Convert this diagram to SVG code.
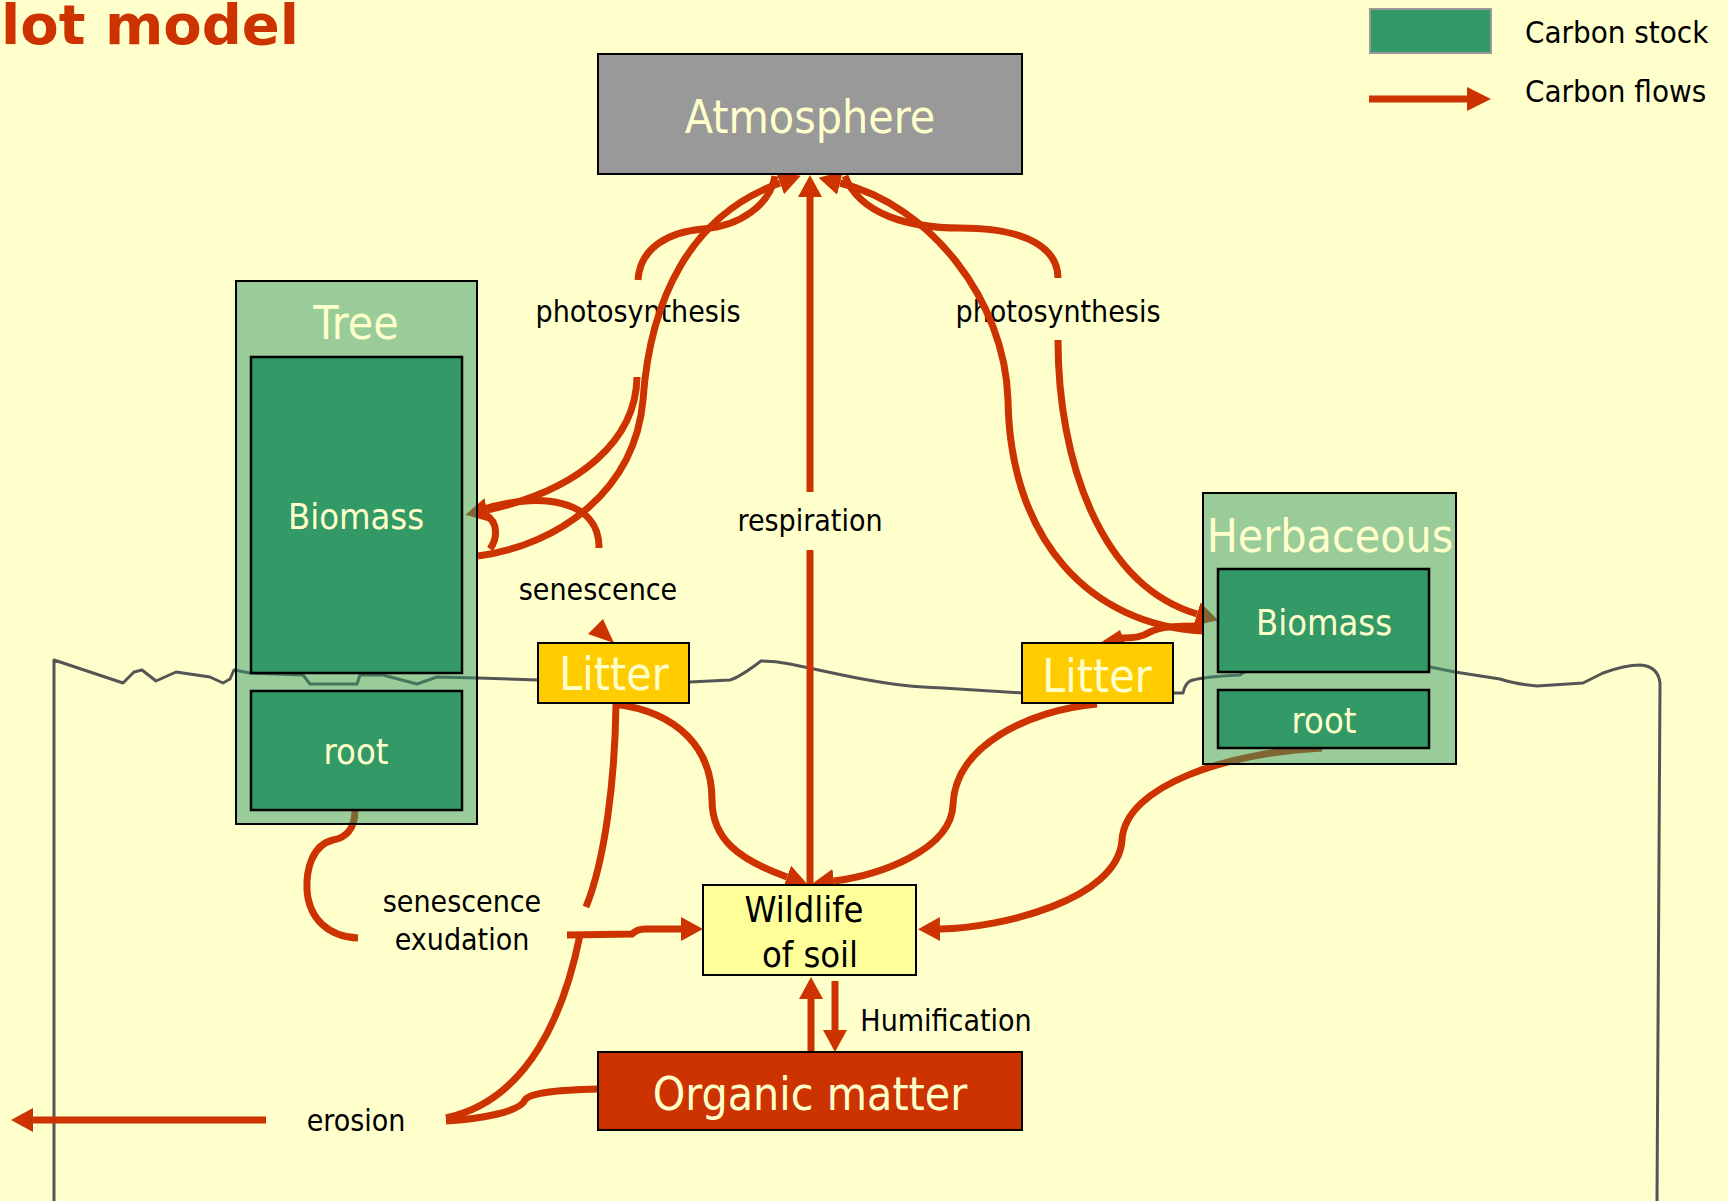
<svg xmlns="http://www.w3.org/2000/svg" width="1728" height="1201" viewBox="0 0 1728 1201">
  <defs>
    <marker id="head" markerUnits="userSpaceOnUse" viewBox="0 0 22 24" refX="0" refY="12" markerWidth="22" markerHeight="24" orient="auto">
      <path d="M0,0 L22,12 L0,24 Z" fill="#CC3300"/>
    </marker>
    <style>
      .bg { fill: #FFFFCC; }
      .flow { fill: none; stroke: #CC3300; stroke-width: 7; }
      .head { fill: #CC3300; }
      .ground { fill: none; stroke: #555555; stroke-width: 3; stroke-linejoin: round; }
      .group { fill: #339966; fill-opacity: 0.5; stroke: #000; stroke-width: 2; }
      .stock { fill: #339966; stroke: #000; stroke-width: 2.5; }
      .box { stroke: #000; stroke-width: 2; }
      .t { font-family: "DejaVu Sans Condensed", "DejaVu Sans", "Liberation Sans", sans-serif; text-anchor: middle; }
      .big { font-size: 46px; fill: #FFFFCC; }
      .mid { font-size: 36px; fill: #FFFFCC; }
      .lbl { font-size: 30px; fill: #000; }
      .leg { font-size: 31px; fill: #000; text-anchor: start; }
    </style>
  </defs>

  <rect class="bg" x="0" y="0" width="1728" height="1201"/>

  <!-- heading, partly cut at the top edge -->
  <text x="1" y="44" font-family="'DejaVu Sans', 'Liberation Sans', sans-serif" font-weight="bold" font-size="56" fill="#CC3300">lot model</text>

  <!-- legend -->
  <g id="legend">
    <rect x="1370" y="9" width="121" height="44" fill="#339966" stroke="#999999" stroke-width="2"/>
    <text class="t leg" x="1525" y="43">Carbon stock</text>
    <path class="flow" d="M1369,99 H1467"/>
    <polygon class="head" points="1467,87 1491,99 1467,111"/>
    <text class="t leg" x="1525" y="102">Carbon flows</text>
  </g>

  <!-- soil surface and plot edges -->
  <path id="ground" class="ground" d="M54,1201 L54,660 L123,683 L134,672 L142,670 L156,681 L176,672 L210,677 L223,683 L230,679 L234,670 L250,673 L303,675 L310,684 L357,684 L360,675 L383,675 L417,684 L437,677 L478,678 L538,680 L690,682 L730,680 Q740,677 761,661 Q775,661 790,664 L828,672 Q860,679 886,683 Q910,687 943,688 L1022,693 L1183,693 Q1185,684 1190,681 Q1200,677 1240,675 L1250,668 L1430,667 L1455,672 L1500,679 Q1515,684 1537,686 L1583,683 Q1595,677 1603,673 Q1625,665 1640,665 Q1658,666 1660,683 L1657,1201"/>

  <!-- flow labels -->
  <g id="flow-labels">
    <text class="t lbl" x="638" y="322">photosynthesis</text>
    <text class="t lbl" x="1058" y="322">photosynthesis</text>
    <text class="t lbl" x="810" y="531">respiration</text>
    <text class="t lbl" x="598" y="600">senescence</text>
    <text class="t lbl" x="462" y="912">senescence</text>
    <text class="t lbl" x="462" y="950">exudation</text>
    <text class="t lbl" x="946" y="1031">Humification</text>
    <text class="t lbl" x="356" y="1131">erosion</text>
  </g>

  <!-- carbon flows -->
  <g id="connectors">
    <!-- respiration -->
    <path class="flow" d="M810,885 V550 M810,492 V197" marker-end="url(#head)"/>
    <!-- tree photosynthesis: atmosphere to tree -->
    <path class="flow" d="M775,176 C770,205 740,226 703,229 C668,232 640,248 638,280 M637,377 C636,440 580,490 487,510" marker-end="url(#head)"/>
    <!-- tree to atmosphere -->
    <path class="flow" d="M478,556 C560,545 635,490 643,400 C650,300 690,215 780,183" marker-end="url(#head)"/>
    <path class="flow" d="M490,549 C498,538 498,522 486,515"/>
    <!-- herbaceous to atmosphere -->
    <path class="flow" d="M1203,631 C1090,625 1010,540 1008,400 C1005,300 930,205 840,183" marker-end="url(#head)"/>
    <!-- herbaceous photosynthesis: atmosphere to herbaceous -->
    <path class="flow" d="M845,176 C860,215 910,228 960,228 C1030,228 1058,250 1058,278 M1058,340 C1058,460 1100,585 1197,614" marker-end="url(#head)"/>
    <!-- tree senescence -->
    <path class="flow" d="M478,511 C540,490 600,500 599,548"/>
    <polygon class="head" points="603,619 588,634 614,643"/>
    <!-- herbaceous senescence -->
    <path class="flow" d="M1203,626 C1170,626 1160,627 1150,632 C1142,637 1135,638 1120,638"/>
    <polygon class="head" points="1100,643 1120,630 1126,646"/>
    <!-- litter to soil wildlife -->
    <path class="flow" d="M614,704 C680,712 712,750 712,800 C712,840 740,860 787,877" marker-end="url(#head)"/>
    <path class="flow" d="M1097,704 C1030,710 955,745 953,805 C951,850 880,875 834,881" marker-end="url(#head)"/>
    <!-- herbaceous root to soil wildlife -->
    <path class="flow" d="M1322,748 C1230,752 1125,785 1122,840 C1118,900 1000,928 940,929" marker-end="url(#head)"/>
    <!-- tree root senescence / exudation -->
    <path class="flow" d="M355,810 C355,830 345,838 333,840 C312,845 306,870 307,890 C309,920 330,937 358,938"/>
    <path class="flow" d="M567,935 L632,934 Q637,929 645,929 L681,929" marker-end="url(#head)"/>
    <!-- litter towards erosion -->
    <path class="flow" d="M616,704 C615,780 605,860 586,907 M580,935 C565,1010 530,1100 446,1118"/>
    <!-- organic matter towards erosion -->
    <path class="flow" d="M598,1089 C560,1090 530,1092 525,1100 C520,1112 480,1119 446,1121"/>
    <path class="flow" d="M266,1120 H33" marker-end="url(#head)"/>
    <!-- humification -->
    <path class="flow" d="M811,1052 V999" marker-end="url(#head)"/>
    <path class="flow" d="M835,981 V1030" marker-end="url(#head)"/>
  </g>

  <!-- carbon stocks -->
  <g id="atmosphere">
    <rect class="box" x="598" y="54" width="424" height="120" fill="#999999"/>
    <text class="t big" x="810" y="133">Atmosphere</text>
  </g>

  <g id="tree">
    <rect class="group" x="236" y="281" width="241" height="543"/>
    <text class="t big" x="356" y="339" font-size="48">Tree</text>
    <g id="tree-biomass">
      <rect class="stock" x="251" y="357" width="211" height="316"/>
      <text class="t mid" x="356" y="529">Biomass</text>
    </g>
    <g id="tree-root">
      <rect class="stock" x="251" y="691" width="211" height="119"/>
      <text class="t mid" x="356" y="764">root</text>
    </g>
  </g>

  <g id="herbaceous">
    <rect class="group" x="1203" y="493" width="253" height="271"/>
    <text class="t big" x="1330" y="552">Herbaceous</text>
    <g id="herb-biomass">
      <rect class="stock" x="1218" y="569" width="211" height="103"/>
      <text class="t mid" x="1324" y="635">Biomass</text>
    </g>
    <g id="herb-root">
      <rect class="stock" x="1218" y="690" width="211" height="58"/>
      <text class="t mid" x="1324" y="733">root</text>
    </g>
  </g>

  <g id="litter-tree">
    <rect class="box" x="538" y="643" width="151" height="60" fill="#FFCC00"/>
    <text class="t big" x="614" y="690">Litter</text>
  </g>

  <g id="litter-herb">
    <rect class="box" x="1022" y="643" width="151" height="60" fill="#FFCC00"/>
    <text class="t big" x="1097" y="692">Litter</text>
  </g>

  <g id="soil-wildlife">
    <rect class="box" x="703" y="885" width="213" height="90" fill="#FFFF99"/>
    <text class="t" x="804" y="922" font-size="36" fill="#000">Wildlife</text>
    <text class="t" x="810" y="967" font-size="36" fill="#000">of soil</text>
  </g>

  <g id="organic-matter">
    <rect class="box" x="598" y="1052" width="424" height="78" fill="#CC3300"/>
    <text class="t big" x="810" y="1110">Organic matter</text>
  </g>
</svg>
